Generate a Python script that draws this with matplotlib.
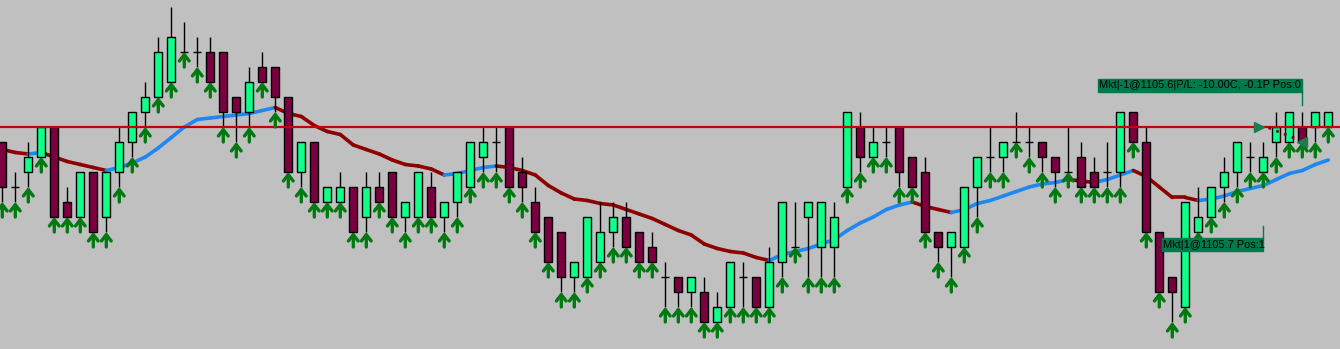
import numpy as np
import matplotlib.pyplot as plt
from matplotlib.collections import LineCollection
from matplotlib.patches import Rectangle

# OHLC bars (price, tick 0.1)
opens = [1105.5, 1105.2, 1105.3, 1105.4, 1105.6, 1105.1, 1105.0, 1105.3, 1105.0, 1105.3,
         1105.5, 1105.7, 1105.8, 1105.9, 1106.1, 1106.1, 1106.1, 1106.1, 1105.8, 1105.7,
         1106.0, 1106.0, 1105.8, 1105.3, 1105.5, 1105.1, 1105.1, 1105.2, 1105.0, 1105.2,
         1105.3, 1105.0, 1105.0, 1105.2, 1105.0, 1105.1, 1105.2, 1105.4, 1105.5, 1105.6,
         1105.3, 1105.1, 1105.0, 1104.9, 1104.6, 1104.6, 1104.7, 1104.9, 1105.0, 1104.9,
         1104.8, 1104.6, 1104.6, 1104.5, 1104.5, 1104.3, 1104.4, 1104.6, 1104.6, 1104.4,
         1104.7, 1104.8, 1105.0, 1104.8, 1104.8, 1105.2, 1105.6, 1105.4, 1105.5, 1105.6,
         1105.4, 1105.3, 1104.9, 1104.8, 1104.8, 1105.2, 1105.4, 1105.4, 1105.5, 1105.5,
         1105.5, 1105.4, 1105.3, 1105.4, 1105.3, 1105.3, 1105.3, 1105.7, 1105.5, 1104.9,
         1104.6, 1104.4, 1104.9, 1105.0, 1105.2, 1105.3, 1105.4, 1105.3, 1105.5, 1105.5,
         1105.6, 1105.6, 1105.6]
highs = [1105.5, 1105.3, 1105.5, 1105.6, 1105.6, 1105.2, 1105.3, 1105.3, 1105.3, 1105.6,
         1105.7, 1105.9, 1106.2, 1106.4, 1106.3, 1106.2, 1106.2, 1106.1, 1105.8, 1106.0,
         1106.1, 1106.0, 1105.8, 1105.5, 1105.5, 1105.2, 1105.3, 1105.2, 1105.3, 1105.3,
         1105.3, 1105.1, 1105.3, 1105.3, 1105.1, 1105.3, 1105.5, 1105.6, 1105.6, 1105.6,
         1105.4, 1105.2, 1105.0, 1104.9, 1104.7, 1105.0, 1105.1, 1105.1, 1105.1, 1104.9,
         1104.9, 1104.7, 1104.6, 1104.6, 1104.6, 1104.5, 1104.7, 1104.7, 1104.6, 1104.8,
         1105.1, 1105.1, 1105.1, 1105.1, 1105.1, 1105.7, 1105.7, 1105.6, 1105.6, 1105.6,
         1105.4, 1105.4, 1104.9, 1104.9, 1105.2, 1105.4, 1105.6, 1105.5, 1105.7, 1105.6,
         1105.5, 1105.4, 1105.6, 1105.5, 1105.4, 1105.5, 1105.7, 1105.7, 1105.6, 1104.9,
         1104.6, 1105.1, 1105.2, 1105.2, 1105.4, 1105.5, 1105.5, 1105.5, 1105.7, 1105.7,
         1105.7, 1105.7, 1105.7]
lows = [1105.1, 1105.1, 1105.2, 1105.4, 1105.0, 1105.0, 1105.0, 1104.9, 1104.9, 1105.2,
        1105.4, 1105.6, 1105.8, 1105.9, 1106.1, 1106.0, 1105.9, 1105.6, 1105.5, 1105.6,
        1105.9, 1105.7, 1105.3, 1105.2, 1105.1, 1105.1, 1105.1, 1104.9, 1104.9, 1105.1,
        1105.0, 1104.9, 1105.0, 1105.0, 1104.9, 1105.0, 1105.2, 1105.3, 1105.3, 1105.2,
        1105.1, 1104.9, 1104.7, 1104.5, 1104.5, 1104.6, 1104.7, 1104.8, 1104.8, 1104.7,
        1104.7, 1104.4, 1104.4, 1104.4, 1104.3, 1104.3, 1104.4, 1104.4, 1104.4, 1104.4,
        1104.6, 1104.8, 1104.6, 1104.6, 1104.6, 1105.2, 1105.3, 1105.4, 1105.4, 1105.2,
        1105.2, 1104.9, 1104.7, 1104.6, 1104.8, 1105.0, 1105.3, 1105.3, 1105.5, 1105.4,
        1105.3, 1105.2, 1105.3, 1105.2, 1105.2, 1105.2, 1105.2, 1105.5, 1104.9, 1104.5,
        1104.3, 1104.4, 1104.9, 1105.0, 1105.1, 1105.2, 1105.3, 1105.3, 1105.4, 1105.5,
        1105.5, 1105.5, 1105.6]
closes = [1105.2, 1105.2, 1105.4, 1105.6, 1105.0, 1105.0, 1105.3, 1104.9, 1105.3, 1105.5,
          1105.7, 1105.8, 1106.1, 1106.2, 1106.1, 1106.1, 1105.9, 1105.7, 1105.7, 1105.9,
          1105.9, 1105.8, 1105.3, 1105.5, 1105.1, 1105.2, 1105.2, 1104.9, 1105.2, 1105.1,
          1105.0, 1105.1, 1105.3, 1105.0, 1105.1, 1105.3, 1105.5, 1105.5, 1105.5, 1105.2,
          1105.2, 1104.9, 1104.7, 1104.6, 1104.7, 1105.0, 1104.9, 1105.0, 1104.8, 1104.7,
          1104.7, 1104.6, 1104.5, 1104.6, 1104.3, 1104.4, 1104.7, 1104.6, 1104.4, 1104.7,
          1105.1, 1104.8, 1105.1, 1105.1, 1105.0, 1105.7, 1105.4, 1105.5, 1105.5, 1105.3,
          1105.2, 1104.9, 1104.8, 1104.9, 1105.2, 1105.4, 1105.4, 1105.5, 1105.5, 1105.5,
          1105.4, 1105.3, 1105.3, 1105.2, 1105.2, 1105.3, 1105.7, 1105.5, 1104.9, 1104.5,
          1104.5, 1105.1, 1105.0, 1105.2, 1105.3, 1105.5, 1105.4, 1105.4, 1105.6, 1105.7,
          1105.5, 1105.7, 1105.7]

# moving average line
ma = [1105.45, 1105.43, 1105.42, 1105.43, 1105.40, 1105.37, 1105.35, 1105.33, 1105.31, 1105.33,
      1105.36, 1105.40, 1105.46, 1105.53, 1105.60, 1105.65, 1105.66, 1105.67, 1105.68, 1105.69,
      1105.71, 1105.73, 1105.69, 1105.67, 1105.61, 1105.57, 1105.55, 1105.48, 1105.45, 1105.42,
      1105.38, 1105.35, 1105.34, 1105.32, 1105.28, 1105.29, 1105.31, 1105.33, 1105.34, 1105.33,
      1105.31, 1105.28, 1105.21, 1105.16, 1105.12, 1105.11, 1105.09, 1105.08, 1105.05, 1105.02,
      1104.99, 1104.95, 1104.91, 1104.88, 1104.82, 1104.79, 1104.77, 1104.76, 1104.73, 1104.71,
      1104.75, 1104.77, 1104.79, 1104.82, 1104.85, 1104.91, 1104.96, 1105.00, 1105.05, 1105.08,
      1105.10, 1105.07, 1105.05, 1105.03, 1105.05, 1105.09, 1105.11, 1105.14, 1105.17, 1105.20,
      1105.22, 1105.23, 1105.25, 1105.24, 1105.23, 1105.25, 1105.28, 1105.31, 1105.27, 1105.20,
      1105.13, 1105.13, 1105.11, 1105.12, 1105.14, 1105.17, 1105.19, 1105.21, 1105.25, 1105.29,
      1105.31, 1105.35, 1105.38]

position_line = 1105.6
entry_bar, entry_price = 96.7, 1105.6
exit_bar, exit_price = 100.0, 1105.5
label_sell = "Mkt|-1@1105.6|P/L: -10.00C, -0.1P Pos:0"
label_buy = "Mkt|1@1105.7 Pos:1"

bg = '#c0c0c0'
bull = '#10ff88'
bear = '#7a0040'
arrow_col = '#007a10'

W, H = 1340, 349
fig = plt.figure(figsize=(W / 100, H / 100), dpi=100, facecolor=bg)
ax = fig.add_axes([0, 0, 1, 1])
ax.set_facecolor(bg)

n = len(opens)
x = np.arange(n)
o = np.array(opens); c = np.array(closes)
hi = np.array(highs); lo = np.array(lows)

# moving average, blue when rising, dark red when falling
pts = np.column_stack([x, ma])
segs = np.stack([pts[:-1], pts[1:]], axis=1)
cols = ['#1e88f0' if ma[i + 1] > ma[i] else '#8c0000' for i in range(n - 1)]
ax.add_collection(LineCollection(segs, colors=cols, linewidths=2.6, zorder=1,
                                 capstyle='round'))

# wicks and bodies
ax.vlines(x, lo, hi, color='black', lw=1, zorder=2)
body_col = [bull if c[i] > o[i] else bear for i in range(n)]
ax.bar(x, np.abs(c - o), bottom=np.minimum(o, c), width=0.62, color=body_col,
       edgecolor='black', linewidth=1, zorder=3)

ax.axhline(position_line, color='#c80000', lw=1.6, zorder=4)

# green arrows under each low
for i in range(n):
    ax.annotate('', xy=(i, lo[i]), xytext=(i, lo[i] - 0.1),
                arrowprops=dict(arrowstyle='->,head_length=0.45,head_width=0.35',
                                color=arrow_col, lw=2.4, shrinkA=0, shrinkB=0),
                zorder=5)

# trade markers
ax.plot([entry_bar + 0.7, exit_bar - 0.3], [entry_price - 0.005, exit_price + 0.015],
        ls=(0, (1, 2)), color='#7a0040', lw=2, zorder=6)
ax.plot(entry_bar, entry_price, marker='>', ms=7, color='#1f7a50', zorder=6)
ax.plot(exit_bar, exit_price, marker='<', ms=7, color='#1f7a50', zorder=6)

ax.set_xlim(-2.3 / 13, (W - 2.3) / 13)
ax.set_ylim(position_line - 222 / 150, position_line + 127 / 150)
ax.axis('off')

# order labels
def order_label(x0, x1, ytop, text, stem):
    y0 = 1 - (ytop + 13) / H
    fig.patches.append(Rectangle((x0 / W, y0), (x1 - x0) / W, 13 / H,
                                 transform=fig.transFigure, color='#007a4c', zorder=7))
    fig.text(x0 / W + 1 / W, y0 + 6.5 / H, text, fontsize=7.9, family='Liberation Sans',
             va='center', ha='left', color='black', zorder=8)
    fig.lines.append(plt.Line2D([x1 / W, x1 / W], [1 - stem[0] / H, 1 - stem[1] / H],
                                transform=fig.transFigure, color='#007a4c', lw=1))

order_label(1098, 1302, 79, label_sell, (92, 105))
order_label(1162, 1263, 238, label_buy, (226, 238))

fig.savefig('out.png', dpi=100, facecolor=bg)
